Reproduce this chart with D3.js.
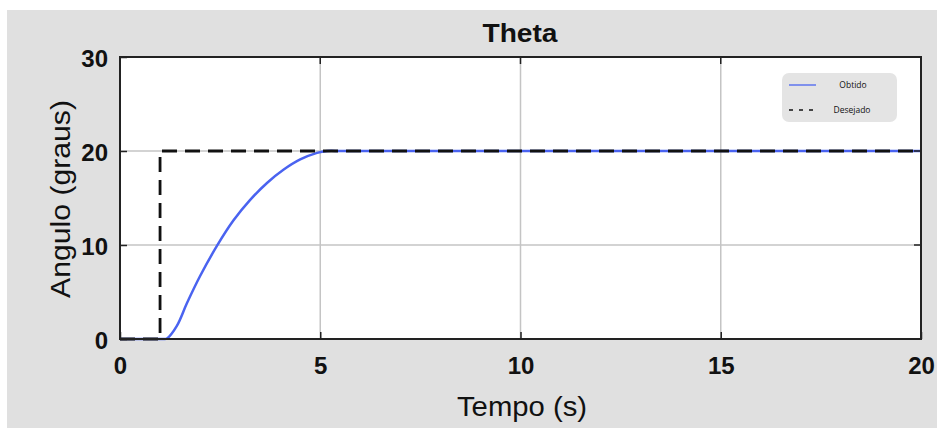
<!DOCTYPE html>
<html><head><meta charset="utf-8">
<script src="https://cdn.jsdelivr.net/npm/d3@7/dist/d3.min.js"></script>
<style>body{margin:0;background:#fff}svg{display:block}</style>
</head><body>
<svg id="c" width="937" height="430"></svg>
<script>
const xTicks = [0, 5, 10, 15, 20];
const yTicks = [0, 10, 20, 30];
const obtidoT = [0, 0.5, 1.0, 1.1, 1.17, 1.42, 1.67, 2.0, 2.42, 2.83, 3.25, 3.67, 4.08, 4.5, 4.92, 5.17, 5.5, 6, 10, 15, 20];
const obtidoV = [0, 0, 0, 0, 0.05, 1.4, 3.8, 6.7, 9.9, 12.6, 14.8, 16.6, 18.0, 19.1, 19.8, 20, 20, 20, 20, 20, 20];
const desejadoT = [0, 1, 1, 20];
const desejadoV = [0, 0, 20, 20];
const seriesNames = ["Obtido", "Desejado"];

const svg = d3.select("#c");
const W = 937, H = 430;
const m = {l:120, r:16, t:57, b:91};
const x = d3.scaleLinear().domain([0,20]).range([m.l, W-m.r]);
const y = d3.scaleLinear().domain([0,30]).range([H-m.b, m.t]);
const FONT = "Liberation Sans, Arial, sans-serif";

// grey figure background
svg.append("rect").attr("x",7).attr("y",10).attr("width",W-7).attr("height",H-12).attr("fill","#e0e0e0");
svg.append("rect").attr("x",m.l).attr("y",m.t).attr("width",x(20)-x(0)).attr("height",y(0)-y(30)).attr("fill","#fff");

// grid
svg.append("g").selectAll("line").data(xTicks.slice(1,-1)).join("line")
  .attr("x1",d=>x(d)).attr("x2",d=>x(d)).attr("y1",y(0)).attr("y2",y(30))
  .attr("stroke","#c4c4c4").attr("stroke-width",1.5);
svg.append("g").selectAll("line").data(yTicks.slice(1,-1)).join("line")
  .attr("y1",d=>y(d)).attr("y2",d=>y(d)).attr("x1",x(0)).attr("x2",x(20))
  .attr("stroke","#c4c4c4").attr("stroke-width",1.5);

const obt = obtidoT.map((t,i)=>[t,obtidoV[i]]);
const des = desejadoT.map((t,i)=>[t,desejadoV[i]]);
svg.append("path").datum(obt)
  .attr("d", d3.line().x(d=>x(d[0])).y(d=>y(d[1])).curve(d3.curveCatmullRom.alpha(0.5)))
  .attr("fill","none").attr("stroke","#4a63f0").attr("stroke-width",2.5);
svg.append("path").datum(des)
  .attr("d", d3.line().x(d=>x(d[0])).y(d=>y(d[1])))
  .attr("fill","none").attr("stroke","#111").attr("stroke-width",2.8).attr("stroke-dasharray","15,8");

// axes
const xa = d3.axisBottom(x).tickValues(xTicks).tickSize(-7).tickPadding(18);
const ya = d3.axisLeft(y).tickValues(yTicks).tickSize(-7).tickPadding(12);
const gx = svg.append("g").attr("transform",`translate(0,${y(0)})`).call(xa);
const gy = svg.append("g").attr("transform",`translate(${x(0)},0)`).call(ya);
[gx,gy].forEach(g=>{
  g.select(".domain").remove();
  g.selectAll("line").attr("stroke","#222").attr("stroke-width",1.5);
  g.selectAll("text").attr("font-family",FONT).attr("font-size",24).attr("font-weight","bold").attr("fill","#111");
});
gy.selectAll("text").attr("dy","0.38em");
gx.selectAll("text").attr("dy","0.72em");
// top/right ticks
svg.append("g").selectAll("line").data(xTicks).join("line")
  .attr("x1",d=>x(d)).attr("x2",d=>x(d)).attr("y1",y(30)).attr("y2",y(30)+7).attr("stroke","#222").attr("stroke-width",1.5);
svg.append("g").selectAll("line").data(yTicks).join("line")
  .attr("y1",d=>y(d)).attr("y2",d=>y(d)).attr("x1",x(20)).attr("x2",x(20)-7).attr("stroke","#222").attr("stroke-width",1.5);

svg.append("rect").attr("x",m.l).attr("y",m.t).attr("width",x(20)-x(0)).attr("height",y(0)-y(30))
  .attr("fill","none").attr("stroke","#222").attr("stroke-width",2);

// title & labels
svg.append("text").attr("x",520).attr("y",42).attr("text-anchor","middle")
  .attr("font-family",FONT).attr("font-size",26).attr("font-weight","bold").attr("fill","#111")
  .attr("textLength",75).attr("lengthAdjust","spacingAndGlyphs").text("Theta");
svg.append("text").attr("x",522).attr("y",416).attr("text-anchor","middle")
  .attr("font-family",FONT).attr("font-size",28).attr("fill","#111")
  .attr("textLength",130).attr("lengthAdjust","spacingAndGlyphs").text("Tempo (s)");
svg.append("text").attr("transform","translate(70,199) rotate(-90)").attr("text-anchor","middle")
  .attr("font-family",FONT).attr("font-size",28).attr("fill","#111")
  .attr("textLength",198).attr("lengthAdjust","spacingAndGlyphs").text("Angulo (graus)");

// legend
const lg = svg.append("g");
lg.append("rect").attr("x",782).attr("y",73).attr("width",115).attr("height",49).attr("rx",7).attr("fill","#e4e4e4");
lg.append("line").attr("x1",789).attr("x2",816).attr("y1",85).attr("y2",85).attr("stroke","#4a63f0").attr("stroke-width",1.3);
lg.append("line").attr("x1",789).attr("x2",818).attr("y1",110).attr("y2",110).attr("stroke","#111").attr("stroke-width",1.3).attr("stroke-dasharray","4,6");
lg.selectAll("text").data(seriesNames).join("text")
  .attr("x",(d,i)=>i===0?853:852).attr("y",(d,i)=>i===0?88:113).attr("text-anchor","middle")
  .attr("font-family","Open Sans, sans-serif").attr("font-size",8.5).attr("fill","#111").text(d=>d);
</script>
</body></html>
